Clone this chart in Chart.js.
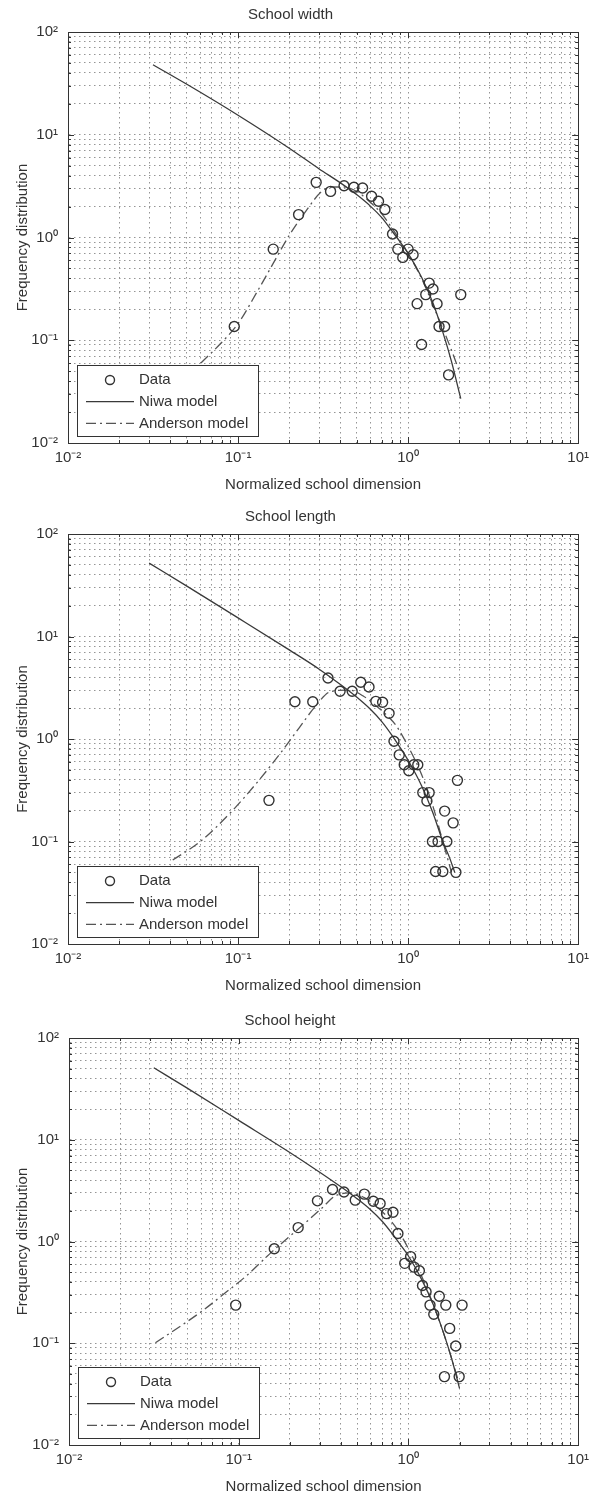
<!DOCTYPE html>
<html>
<head>
<meta charset="utf-8">
<title>School dimension distributions</title>
<script src="https://cdn.jsdelivr.net/npm/chart.js@4.4.1/dist/chart.umd.min.js"></script>
<style>
  html, body { margin: 0; padding: 0; background: #fff; }
  canvas { display: block; }
</style>
</head>
<body>
<canvas id="widthChart" width="595" height="500"></canvas>
<canvas id="lengthChart" width="595" height="500"></canvas>
<canvas id="heightChart" width="595" height="497"></canvas>
<script>
// --- axis decades (log-log, MATLAB style) ---
const xDecades = [0.01, 0.1, 1, 10];
const yDecades = [0.01, 0.1, 1, 10, 100];

// --- School width ---
const widthDataX = [0.095, 0.161, 0.227, 0.288, 0.35, 0.42, 0.48, 0.54, 0.61, 0.67, 0.73, 0.81, 0.87, 0.93, 1.0, 1.07, 1.13, 1.2, 1.27, 1.33, 1.4, 1.48, 1.52, 1.64, 1.73, 2.04];
const widthDataY = [0.136, 0.77, 1.67, 3.44, 2.81, 3.19, 3.08, 3.03, 2.52, 2.25, 1.87, 1.08, 0.77, 0.64, 0.77, 0.68, 0.227, 0.091, 0.278, 0.36, 0.315, 0.227, 0.136, 0.136, 0.046, 0.278];
const widthNiwaX = [0.0316, 0.05, 0.1, 0.2, 0.3, 0.4, 0.5, 0.6, 0.7, 0.8, 0.9, 1.0, 1.2, 1.4, 1.6, 1.8, 2.04];
const widthNiwaY = [48, 31, 15.5, 7.4, 4.65, 3.4, 2.6, 2.02, 1.56, 1.17, 0.9, 0.7, 0.41, 0.23, 0.12, 0.062, 0.027];
const widthAndersonX = [0.0605, 0.08, 0.1, 0.13, 0.16, 0.2, 0.25, 0.31, 0.36, 0.42, 0.5, 0.6, 0.7, 0.8, 0.9, 1.0, 1.2, 1.4, 1.6, 1.8, 2.0];
const widthAndersonY = [0.06, 0.095, 0.145, 0.3, 0.55, 1.05, 1.8, 2.8, 3.1, 3.1, 2.8, 2.2, 1.7, 1.25, 0.93, 0.7, 0.4, 0.22, 0.13, 0.08, 0.05];

// --- School length ---
const lengthDataX = [0.152, 0.216, 0.275, 0.338, 0.398, 0.469, 0.527, 0.589, 0.646, 0.708, 0.773, 0.826, 0.887, 0.949, 1.01, 1.08, 1.14, 1.22, 1.29, 1.33, 1.39, 1.45, 1.5, 1.6, 1.64, 1.69, 1.84, 1.91, 1.95];
const lengthDataY = [0.252, 2.31, 2.31, 3.94, 2.92, 2.92, 3.58, 3.22, 2.33, 2.28, 1.78, 0.95, 0.7, 0.56, 0.49, 0.56, 0.56, 0.3, 0.248, 0.3, 0.1, 0.051, 0.1, 0.051, 0.198, 0.1, 0.152, 0.05, 0.395];
const lengthNiwaX = [0.03, 0.05, 0.1, 0.2, 0.3, 0.4, 0.5, 0.6, 0.7, 0.8, 0.9, 1.0, 1.2, 1.4, 1.6, 1.75, 1.88];
const lengthNiwaY = [52, 31, 15.2, 7.4, 4.8, 3.4, 2.55, 1.95, 1.48, 1.1, 0.82, 0.62, 0.35, 0.19, 0.1, 0.07, 0.05];
const lengthAndersonX = [0.0413, 0.06, 0.09, 0.13, 0.18, 0.23, 0.284, 0.35, 0.45, 0.55, 0.65, 0.75, 0.85, 1.0, 1.2, 1.4, 1.6, 1.8];
const lengthAndersonY = [0.066, 0.1, 0.19, 0.38, 0.75, 1.3, 2.07, 2.9, 3.0, 2.6, 2.1, 1.7, 1.35, 0.85, 0.45, 0.22, 0.1, 0.05];

// --- School height ---
const heightDataX = [0.096, 0.162, 0.224, 0.291, 0.357, 0.417, 0.486, 0.55, 0.621, 0.681, 0.743, 0.811, 0.867, 0.951, 1.03, 1.08, 1.16, 1.21, 1.27, 1.34, 1.41, 1.52, 1.63, 1.66, 1.75, 1.9, 1.99, 2.07];
const heightDataY = [0.237, 0.85, 1.37, 2.51, 3.24, 3.07, 2.55, 2.92, 2.49, 2.36, 1.88, 1.94, 1.2, 0.61, 0.71, 0.56, 0.515, 0.37, 0.32, 0.237, 0.193, 0.29, 0.047, 0.237, 0.14, 0.094, 0.047, 0.237];
const heightNiwaX = [0.0316, 0.05, 0.1, 0.2, 0.3, 0.4, 0.5, 0.6, 0.7, 0.8, 0.9, 1.0, 1.2, 1.4, 1.6, 1.8, 2.0];
const heightNiwaY = [51, 32, 15.5, 7.5, 4.8, 3.45, 2.62, 2.04, 1.58, 1.2, 0.92, 0.72, 0.42, 0.24, 0.13, 0.07, 0.036];
const heightAndersonX = [0.0323, 0.0591, 0.0848, 0.111, 0.158, 0.227, 0.311, 0.37, 0.45, 0.55, 0.65, 0.75, 0.85, 1.0, 1.2, 1.4, 1.6, 1.8, 1.95];
const heightAndersonY = [0.101, 0.2, 0.32, 0.46, 0.8, 1.35, 2.15, 2.8, 3.0, 2.7, 2.2, 1.75, 1.35, 0.85, 0.45, 0.24, 0.13, 0.07, 0.045];

const legendLabels = ['Data', 'Niwa model', 'Anderson model'];

// global look, close to the old MATLAB print
Chart.defaults.font.family = '"Liberation Sans", Arial, sans-serif';
Chart.defaults.font.size = 15;
Chart.defaults.color = '#333';

// 1..9 x every decade -> grid lines
function logTicks(decades) {
    const out = [];
    decades.forEach((d, i) => {
        if (i === decades.length - 1) { out.push(d); return; }
        for (let k = 1; k <= 9; k++) out.push(+(k * d).toPrecision(3));
    });
    return out;
}
const xTickValues = logTicks(xDecades);
const yTickValues = logTicks(yDecades);

const SUP = { '-': '\u207B', '0': '\u2070', '1': '\u00B9', '2': '\u00B2' };
function isDecade(v) {
    const e = Math.log10(v);
    return Math.abs(e - Math.round(e)) < 1e-6;
}
function decadeLabel(v) {
    if (!isDecade(v)) return '';
    const e = String(Math.round(Math.log10(v)));
    return '10' + e.split('').map(c => SUP[c]).join('');
}

function pts(xs, ys) {
    return xs.map((x, i) => ({ x: x, y: ys[i] }));
}

// box round the axes + small inward ticks on all four sides
const framePlugin = {
    id: 'frame',
    afterDatasetsDraw(chart) {
        const { ctx, chartArea: a, scales } = chart;
        ctx.save();
        ctx.strokeStyle = '#333';
        ctx.lineWidth = 1;
        xTickValues.forEach(v => {
            const px = Math.round(scales.x.getPixelForValue(v)) + 0.5;
            const len = isDecade(v) ? 6 : 3;
            ctx.beginPath();
            ctx.moveTo(px, a.bottom); ctx.lineTo(px, a.bottom - len);
            ctx.moveTo(px, a.top); ctx.lineTo(px, a.top + len);
            ctx.stroke();
        });
        yTickValues.forEach(v => {
            const py = Math.round(scales.y.getPixelForValue(v)) + 0.5;
            const len = isDecade(v) ? 6 : 3;
            ctx.beginPath();
            ctx.moveTo(a.left, py); ctx.lineTo(a.left + len, py);
            ctx.moveTo(a.right, py); ctx.lineTo(a.right - len, py);
            ctx.stroke();
        });
        ctx.strokeRect(Math.round(a.left) + 0.5, Math.round(a.top) + 0.5,
            Math.round(a.right - a.left), Math.round(a.bottom - a.top));
        ctx.restore();
    }
};

// opaque legend in the lower-left corner of the plot
const insetLegend = {
    id: 'insetLegend',
    afterDraw(chart) {
        const { ctx, chartArea: a } = chart;
        const bx = Math.round(a.left) + 9, bw = 181, bh = 71;
        const by = Math.round(a.bottom) - 7 - bh;
        ctx.save();
        ctx.fillStyle = '#fff';
        ctx.fillRect(bx, by, bw, bh);
        ctx.strokeStyle = '#333';
        ctx.lineWidth = 1;
        ctx.strokeRect(bx + 0.5, by + 0.5, bw, bh);
        chart.data.datasets.forEach((ds, i) => {
            const cy = by + 15 + i * 21.7;
            ctx.strokeStyle = ds.borderColor;
            ctx.lineWidth = ds.borderWidth;
            if (ds.showLine) {
                ctx.setLineDash(ds.borderDash || []);
                ctx.beginPath();
                ctx.moveTo(bx + 9, cy); ctx.lineTo(bx + 57, cy);
                ctx.stroke();
                ctx.setLineDash([]);
            } else {
                ctx.lineWidth = ds.pointBorderWidth;
                ctx.strokeStyle = ds.pointBorderColor;
                ctx.beginPath();
                ctx.arc(bx + 33, cy, 4.5, 0, Math.PI * 2);
                ctx.stroke();
            }
            ctx.fillStyle = '#333';
            ctx.font = '15px "Liberation Sans", Arial, sans-serif';
            ctx.textBaseline = 'middle';
            ctx.textAlign = 'left';
            ctx.fillText(ds.label, bx + 62, cy);
        });
        ctx.restore();
    }
};

function makeChart(id, title, dataX, dataY, niwaX, niwaY, andX, andY, box) {
    const el = document.getElementById(id);
    return new Chart(el.getContext('2d'), {
        type: 'scatter',
        data: {
            datasets: [
                {
                    label: legendLabels[0],
                    data: pts(dataX, dataY),
                    showLine: false,
                    pointRadius: 5,
                    pointBorderWidth: 1.4,
                    pointBorderColor: '#333',
                    pointBackgroundColor: 'rgba(0,0,0,0)',
                    borderColor: '#333',
                    borderWidth: 1.4
                },
                {
                    label: legendLabels[1],
                    data: pts(niwaX, niwaY),
                    showLine: true,
                    pointRadius: 0,
                    borderColor: '#3a3a3a',
                    borderWidth: 1.3,
                    cubicInterpolationMode: 'monotone'
                },
                {
                    label: legendLabels[2],
                    data: pts(andX, andY),
                    showLine: true,
                    pointRadius: 0,
                    borderColor: '#555',
                    borderWidth: 1.3,
                    borderDash: [10, 4, 2, 4],
                    cubicInterpolationMode: 'monotone'
                }
            ]
        },
        options: {
            responsive: false,
            animation: false,
            devicePixelRatio: 1,
            events: [],
            layout: { padding: { top: box.padTop, left: 0, right: box.padRight, bottom: box.padBottom } },
            plugins: {
                legend: { display: false },
                tooltip: { enabled: false },
                title: {
                    display: true,
                    text: title,
                    color: '#333',
                    font: { size: 15, weight: 'normal' },
                    padding: { top: 6, bottom: 8 }
                }
            },
            scales: {
                x: {
                    type: 'logarithmic',
                    min: 0.01,
                    max: 10,
                    afterBuildTicks: s => { s.ticks = xTickValues.map(v => ({ value: v })); },
                    afterFit: s => { s.height = 51; },
                    ticks: { autoSkip: false, maxRotation: 0, padding: 6, callback: decadeLabel },
                    grid: { color: '#959595', lineWidth: 1, drawTicks: false },
                    border: { display: true, color: '#333', dash: [1.5, 3.5] },
                    title: { display: true, text: 'Normalized school dimension', padding: { top: 0, bottom: 0 } }
                },
                y: {
                    type: 'logarithmic',
                    min: 0.01,
                    max: 100,
                    afterBuildTicks: s => { s.ticks = yTickValues.map(v => ({ value: v })); },
                    afterFit: s => { s.width = box.left; },
                    ticks: { autoSkip: false, padding: 10, callback: decadeLabel },
                    grid: { color: '#959595', lineWidth: 1, drawTicks: false },
                    border: { display: true, color: '#333', dash: [1.5, 3.5] },
                    title: { display: true, text: 'Frequency distribution', padding: { top: 14, bottom: 0 } }
                }
            }
        },
        plugins: [framePlugin, insetLegend]
    });
}

makeChart('widthChart', 'School width', widthDataX, widthDataY, widthNiwaX, widthNiwaY, widthAndersonX, widthAndersonY,
    { padTop: 0, padRight: 14, padBottom: 6, left: 68 });
makeChart('lengthChart', 'School length', lengthDataX, lengthDataY, lengthNiwaX, lengthNiwaY, lengthAndersonX, lengthAndersonY,
    { padTop: 2, padRight: 14, padBottom: 5, left: 68 });
makeChart('heightChart', 'School height', heightDataX, heightDataY, heightNiwaX, heightNiwaY, heightAndersonX, heightAndersonY,
    { padTop: 6, padRight: 15, padBottom: 1, left: 69 });
</script>
</body>
</html>
